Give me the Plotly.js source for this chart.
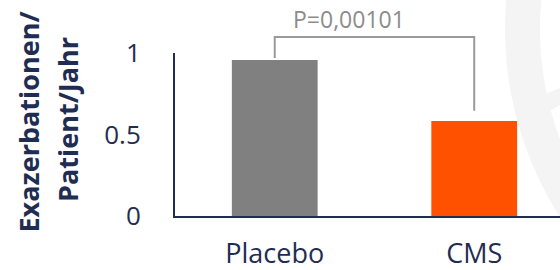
<!DOCTYPE html>
<html>
<head>
<meta charset="utf-8">
<script src="https://cdn.plot.ly/plotly-3.0.1.min.js"></script>
<style>html,body{margin:0;padding:0;background:#fff;}#chart{width:560px;height:270px;}</style>
</head>
<body>
<div id="chart"></div>
<script>
// ---- data ----
const categories = ["Placebo", "CMS"];
const values = [0.957, 0.583];
const barColors = ["#808080", "#ff5100"];
const yTickVals = [0, 0.5, 1];
const yTickText = ["0", "0.5", "1"];
const yTitleLines = ["Exazerbationen/", "Patient/Jahr"];
const pLabel = "P=0,00101";

// ---- style ----
const navy = "#1f2d52";
const font = "'Open Sans', 'Noto Sans', sans-serif";
const W = 560, H = 270;
const M = { l: 175, r: 0, t: 53, b: 54 };
const PW = W - M.l - M.r, PH = H - M.t - M.b;
// pixel -> paper helpers for decorative shapes / labels
const PX = (px) => (px - M.l) / PW;
const PY = (py) => (H - M.b - py) / PH;

const trace = {
  type: "bar",
  x: categories,
  y: values,
  marker: { color: barColors, line: { width: 0 } },
  hoverinfo: "skip"
};

// bracket heights (paper units; y range is [0,1] so paper == data here)
const bracketTop = PY(37);
const legBottom = [values[0] + 0.012, values[1] + 0.062];

function circ(cx, cy, r, color) {
  return { type: "circle", xref: "paper", yref: "paper", layer: "below",
    x0: PX(cx - r), x1: PX(cx + r), y0: PY(cy + r), y1: PY(cy - r),
    fillcolor: color, line: { width: 0 } };
}
const notch = [[540, 96], [560, 88], [560, 105], [551, 110], [545, 104]]
  .map((p, i) => (i ? "L " : "M ") + PX(p[0]) + "," + PY(p[1])).join(" ") + " Z";

const layout = {
  width: W,
  height: H,
  margin: M,
  paper_bgcolor: "#ffffff",
  plot_bgcolor: "rgba(0,0,0,0)",
  showlegend: false,
  bargap: 0.57,
  font: { family: font, color: navy, size: 26 },
  xaxis: {
    type: "category",
    range: [-0.5, 1.43],
    showline: true, linecolor: navy, linewidth: 2,
    showgrid: false, zeroline: false, ticks: "",
    tickfont: { family: font, size: 27, color: navy },
    ticklabelstandoff: 13,
    fixedrange: true
  },
  yaxis: {
    range: [0, 1],
    tickvals: yTickVals, ticktext: yTickText,
    showline: true, linecolor: navy, linewidth: 2,
    showgrid: false, zeroline: false, ticks: "",
    tickfont: { family: font, size: 26, color: navy },
    ticklabelstandoff: 27,
    fixedrange: true
  },
  shapes: [
    // faint background watermark
    circ(855, 29, 350, "#f4f4f4"),
    circ(855, 29, 315, "#ffffff"),
    { type: "path", xref: "paper", yref: "paper", layer: "below",
      path: notch, fillcolor: "#f4f4f4", line: { width: 0 } },
    // significance bracket
    { type: "path", xref: "x", yref: "paper", layer: "above",
      path: `M 0,${legBottom[0]} L 0,${bracketTop} L 1,${bracketTop} L 1,${legBottom[1]}`,
      line: { color: "#9a9a9a", width: 2 } }
  ],
  annotations: [
    { text: "<b>" + yTitleLines[0] + "</b>", xref: "paper", yref: "paper",
      x: PX(28), y: PY(121.5), textangle: -90, showarrow: false,
      xanchor: "center", yanchor: "middle",
      font: { family: font, size: 27, color: navy } },
    { text: "<b>" + yTitleLines[1] + "</b>", xref: "paper", yref: "paper",
      x: PX(67), y: PY(120), textangle: -90, showarrow: false,
      xanchor: "center", yanchor: "middle",
      font: { family: font, size: 27, color: navy } },
    { text: pLabel, xref: "x", yref: "paper", x: 0.5, xshift: -25,
      y: PY(19), showarrow: false, xanchor: "center", yanchor: "middle",
      font: { family: font, size: 23, color: "#8c8c8c" } }
  ]
};

Plotly.newPlot("chart", [trace], layout, { staticPlot: true, displayModeBar: false });
</script>
</body>
</html>
